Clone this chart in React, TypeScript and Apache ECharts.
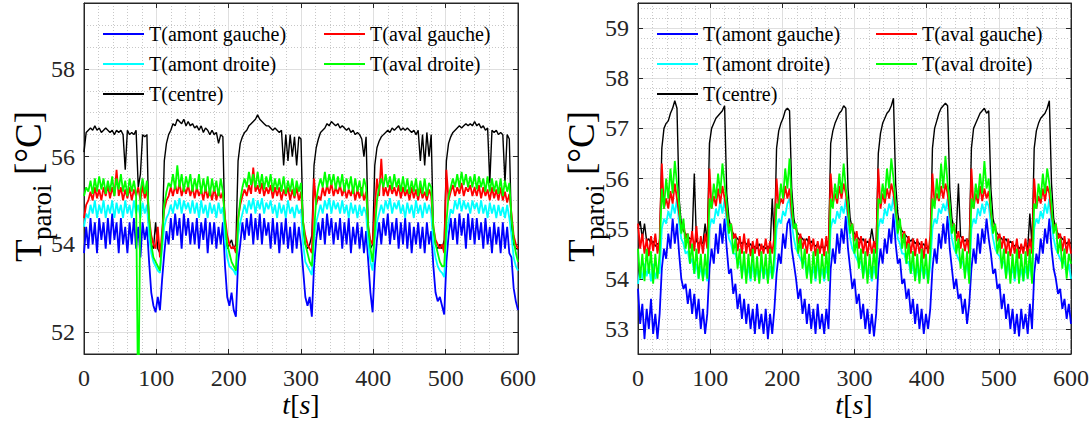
import React, { useEffect, useRef } from "react";
import * as echarts from "echarts";

// ---------- data (sampled every T_STEP seconds, t = 0 .. 600 s) ----------
const T_STEP = 3;

const NAMES = ["T(amont gauche)", "T(aval gauche)", "T(amont droite)", "T(aval droite)", "T(centre)"];
const COLORS: Record<string, string> = {
  "T(amont gauche)": "#0000ff",
  "T(aval gauche)": "#ff0000",
  "T(amont droite)": "#00ffff",
  "T(aval droite)": "#00ff00",
  "T(centre)": "#000000",
};

const X_TICK_LABELS = [0, 100, 200, 300, 400, 500, 600];
const L_Y_TICK_LABELS = [52, 54, 56, 58];
const R_Y_TICK_LABELS = [53, 54, 55, 56, 57, 58, 59];

// ----- left panel -----
const L_AMONT_G = [
  53.8, 54.4, 53.9, 54.6, 54.0, 54.5, 53.8, 54.6, 54.1, 54.5,
  53.9, 54.6, 54.0, 54.7, 54.1, 54.5, 53.8, 54.6, 54.0, 54.4,
  53.8, 54.5, 54.0, 54.6, 53.9, 54.4, 53.7, 54.5, 54.1, 54.4,
  53.6, 52.9, 52.6, 52.45, 52.8, 52.5, 53.2, 53.8, 54.3, 54.0,
  54.6, 54.1, 54.7, 54.2, 54.6, 53.9, 54.7, 54.2, 54.6, 54.0,
  54.5, 54.0, 54.6, 53.9, 54.5, 54.1, 54.6, 53.8, 54.5, 54.0,
  54.5, 53.9, 54.4, 54.0, 54.5, 53.5, 52.8, 52.6, 52.9, 52.5,
  52.35, 53.6, 54.0, 54.5, 54.1, 54.6, 54.2, 54.7, 54.0, 54.6,
  54.1, 54.7, 54.0, 54.6, 54.2, 54.5, 53.9, 54.6, 54.0, 54.5,
  53.8, 54.5, 54.0, 54.6, 53.9, 54.4, 53.8, 54.5, 53.9, 54.4,
  54.0, 53.4, 52.8, 52.6, 52.8, 52.35, 53.5, 54.1, 54.5, 54.1,
  54.6, 54.0, 54.7, 54.2, 54.6, 54.0, 54.5, 54.1, 54.6, 53.9,
  54.5, 54.0, 54.6, 53.8, 54.4, 54.0, 54.5, 53.9, 54.4, 53.8,
  54.3, 53.6, 52.9, 52.45, 53.5, 54.1, 54.5, 54.0, 54.6, 54.2,
  54.7, 54.0, 54.5, 54.1, 54.6, 53.9, 54.5, 54.0, 54.6, 53.9,
  54.5, 53.8, 54.4, 54.0, 54.5, 53.9, 54.4, 53.8, 54.5, 54.0,
  54.3, 53.5, 52.9, 52.7, 52.8, 52.6, 52.4, 53.6, 54.2, 54.6,
  54.1, 54.6, 54.0, 54.7, 54.2, 54.6, 53.9, 54.7, 54.1, 54.6,
  54.0, 54.6, 54.1, 54.5, 53.9, 54.6, 54.0, 54.4, 53.8, 54.5,
  54.0, 54.4, 53.8, 54.5, 53.9, 54.4, 53.8, 53.7, 53.0, 52.7,
  52.5,
];
const L_AVAL_G = [
  54.6, 54.9, 55.0, 55.2, 55.0, 55.3, 55.05, 55.25, 55.0, 55.3,
  55.1, 55.35, 55.05, 55.3, 55.1, 55.7, 55.1, 55.3, 55.0, 55.25,
  55.05, 55.3, 55.0, 55.25, 55.1, 55.3, 55.0, 55.35, 55.05, 55.25,
  54.6, 54.2, 54.0, 53.9, 54.4, 53.7, 54.3, 54.8, 55.0, 55.1,
  55.3, 55.1, 55.35, 55.15, 55.4, 55.1, 55.3, 55.15, 55.35, 55.1,
  55.3, 55.05, 55.3, 55.1, 55.25, 55.0, 55.3, 55.05, 55.25, 55.0,
  55.3, 55.0, 55.25, 55.05, 55.2, 54.6, 54.2, 54.0, 53.9, 53.95,
  53.8, 54.6, 54.9, 55.1, 55.25, 55.1, 55.35, 55.15, 55.75, 55.2,
  55.35, 55.15, 55.4, 55.1, 55.3, 55.15, 55.35, 55.05, 55.3, 55.1,
  55.3, 55.0, 55.25, 55.1, 55.3, 55.0, 55.25, 55.05, 55.3, 55.0,
  55.2, 54.5, 54.2, 54.0, 53.9, 53.8, 55.5, 54.9, 55.1, 55.0,
  55.3, 55.1, 55.35, 55.15, 55.4, 55.1, 55.3, 55.15, 55.35, 55.1,
  55.3, 55.05, 55.25, 55.1, 55.3, 55.0, 55.25, 55.05, 55.3, 55.0,
  55.2, 54.4, 54.1, 54.0, 54.8, 55.5, 55.1, 55.95, 55.1, 55.3,
  55.1, 55.35, 55.15, 55.3, 55.1, 55.35, 55.05, 55.3, 55.1, 55.25,
  55.0, 55.3, 55.05, 55.25, 55.0, 55.3, 55.05, 55.2, 55.0, 55.25,
  55.1, 54.4, 54.1, 54.0, 53.9, 54.0, 53.8, 55.7, 55.0, 55.2,
  55.35, 55.1, 55.3, 55.15, 55.4, 55.1, 55.3, 55.2, 55.35, 55.1,
  55.3, 55.1, 55.35, 55.05, 55.3, 55.1, 55.25, 55.0, 55.3, 55.05,
  55.25, 55.0, 55.3, 55.0, 55.2, 54.95, 55.15, 54.7, 54.2, 54.0,
  53.9,
];
const L_AMONT_D = [
  54.4, 54.7, 54.6, 54.9, 54.7, 55.0, 54.6, 54.9, 54.7, 55.0,
  54.6, 54.9, 54.7, 55.0, 54.6, 54.95, 54.7, 54.9, 54.6, 55.0,
  54.7, 54.9, 54.6, 55.0, 54.7, 54.9, 54.6, 54.95, 54.7, 54.9,
  54.2, 53.8, 53.6, 53.5, 53.4, 53.35, 53.9, 54.4, 54.6, 54.7,
  54.9, 54.7, 55.0, 54.8, 55.05, 54.7, 55.0, 54.8, 54.95, 54.7,
  55.0, 54.7, 54.95, 54.6, 55.0, 54.7, 54.9, 54.6, 54.95, 54.7,
  54.9, 54.6, 54.95, 54.7, 54.85, 54.1, 53.7, 53.5, 53.45, 53.4,
  53.3, 54.2, 54.5, 54.7, 54.9, 54.7, 55.0, 54.8, 55.05, 54.7,
  55.0, 54.8, 55.05, 54.7, 54.95, 54.8, 55.0, 54.7, 54.9, 54.6,
  54.95, 54.7, 54.9, 54.6, 55.0, 54.7, 54.85, 54.6, 54.9, 54.7,
  54.8, 54.0, 53.6, 53.5, 53.4, 53.3, 54.1, 54.5, 54.7, 54.9,
  54.7, 55.0, 54.8, 55.05, 54.7, 55.0, 54.8, 54.95, 54.7, 55.0,
  54.7, 54.9, 54.6, 54.95, 54.7, 54.9, 54.6, 54.9, 54.65, 54.85,
  54.7, 54.0, 53.6, 53.4, 54.1, 54.5, 54.7, 54.9, 54.7, 55.0,
  54.8, 55.05, 54.7, 54.95, 54.8, 55.0, 54.7, 54.9, 54.6, 54.95,
  54.7, 54.9, 54.6, 55.0, 54.7, 54.9, 54.6, 54.95, 54.7, 54.9,
  54.7, 54.0, 53.7, 53.5, 53.4, 53.35, 53.25, 54.2, 54.5, 54.8,
  54.7, 55.0, 54.8, 55.05, 54.75, 55.0, 54.8, 54.95, 54.7, 55.0,
  54.8, 54.95, 54.7, 55.0, 54.7, 54.9, 54.6, 54.95, 54.7, 54.9,
  54.6, 54.9, 54.65, 54.85, 54.6, 54.9, 54.6, 54.2, 53.7, 53.5,
  53.4,
];
const L_AVAL_D = [
  55.1, 55.3, 55.2, 55.45, 55.15, 55.5, 55.2, 55.55, 55.25, 55.5,
  55.15, 55.45, 55.2, 55.55, 55.1, 55.5, 55.25, 55.6, 55.2, 55.45,
  55.1, 55.5, 55.2, 55.45, 55.15, 50.0, 55.2, 55.5, 55.15, 55.45,
  54.6, 54.0, 53.7, 53.6, 53.5, 53.4, 54.1, 54.9, 55.2, 55.4,
  55.3, 55.6, 55.25, 55.8, 55.3, 55.6, 55.2, 55.55, 55.3, 55.6,
  55.2, 55.5, 55.25, 55.6, 55.15, 55.5, 55.2, 55.55, 55.1, 55.5,
  55.2, 55.45, 55.1, 55.5, 55.2, 54.5, 54.0, 53.8, 53.6, 53.5,
  53.4, 54.5, 55.0, 55.3, 55.5, 55.3, 55.65, 55.35, 55.6, 55.3,
  55.65, 55.3, 55.6, 55.25, 55.55, 55.3, 55.6, 55.2, 55.5, 55.25,
  55.5, 55.2, 55.55, 55.15, 55.45, 55.2, 55.5, 55.1, 55.45, 55.2,
  55.4, 54.5, 54.0, 53.8, 53.6, 53.5, 54.3, 55.0, 55.3, 55.5,
  55.3, 55.65, 55.3, 55.6, 55.35, 55.6, 55.25, 55.55, 55.3, 55.6,
  55.2, 55.5, 55.25, 55.55, 55.15, 55.5, 55.2, 55.45, 55.1, 55.5,
  55.3, 54.4, 53.9, 53.6, 54.3, 55.0, 55.3, 55.5, 55.3, 55.6,
  55.3, 55.55, 55.25, 55.6, 55.3, 55.5, 55.2, 55.55, 55.2, 55.5,
  55.15, 55.45, 55.2, 55.5, 55.1, 55.45, 55.15, 55.5, 55.1, 55.4,
  55.3, 54.4, 54.0, 53.8, 53.6, 53.5, 53.5, 54.5, 55.1, 55.3,
  55.5, 55.3, 55.6, 55.3, 55.65, 55.35, 55.6, 55.3, 55.55, 55.3,
  55.6, 55.25, 55.55, 55.3, 55.5, 55.2, 55.55, 55.2, 55.5, 55.2,
  55.45, 55.15, 55.5, 55.1, 55.45, 55.2, 55.4, 54.6, 54.1, 53.8,
  53.6,
];
const L_CENTRE = [
  56.1, 56.55, 56.6, 56.65, 56.6, 56.7, 56.6, 56.65, 56.55, 56.6,
  56.65, 56.6, 56.55, 56.6, 56.5, 56.6, 56.55, 56.6, 56.5, 55.7,
  56.6, 56.5, 56.55, 56.5, 56.6, 55.3, 55.6, 56.5, 56.45, 56.5,
  54.2, 54.0, 53.9, 54.5, 53.9, 53.8, 54.1, 55.9, 56.3, 56.5,
  56.6, 56.75, 56.7, 56.85, 56.8, 56.75, 56.85, 56.7, 56.8, 56.7,
  56.75, 56.65, 56.7, 56.6, 56.7, 56.55, 56.65, 56.6, 56.5, 56.6,
  56.5, 56.55, 56.3, 56.5, 56.45, 54.2, 53.9, 54.0, 54.1, 53.9,
  54.0, 55.9, 56.3, 56.45, 56.55, 56.6, 56.7, 56.75, 56.8, 56.85,
  56.95, 56.85, 56.8, 56.75, 56.7, 56.7, 56.65, 56.6, 56.65, 56.6,
  56.55, 56.6, 55.8, 56.5, 55.9, 56.5, 56.0, 56.45, 55.8, 56.45,
  56.4, 54.3, 54.0, 53.9, 54.0, 54.2, 55.8, 56.2, 56.4, 56.55,
  56.6, 56.65, 56.75, 56.7, 56.8, 56.75, 56.7, 56.75, 56.65, 56.7,
  56.65, 56.6, 56.65, 56.55, 56.6, 56.5, 56.55, 56.5, 56.4, 56.0,
  56.45, 54.3, 53.9, 54.0, 55.8, 56.2, 56.35, 56.45, 56.5, 56.55,
  56.6, 56.55, 56.65, 56.6, 56.65, 56.7, 56.6, 56.65, 56.6, 56.65,
  56.6, 56.55, 56.6, 56.5, 56.6, 55.9, 56.5, 55.8, 56.55, 56.0,
  56.5, 54.3, 54.0, 53.9, 54.0, 53.9, 54.1, 55.9, 56.3, 56.45,
  56.55, 56.6, 56.65, 56.7, 56.65, 56.7, 56.75, 56.7, 56.75, 56.7,
  56.8, 56.7, 56.75, 56.65, 56.7, 56.6, 56.65, 55.4, 56.6, 56.55,
  56.6, 56.5, 56.55, 56.5, 55.4, 56.5, 56.4, 54.3, 54.0, 53.9,
  53.9,
];

// ----- right panel -----
const R_AMONT_G = [
  53.8, 53.1, 53.5, 52.8, 53.4, 53.0, 53.6, 52.9, 53.3, 52.8,
  53.3, 54.2, 54.6, 54.4, 54.9, 54.6, 55.2, 54.7, 55.1, 54.5,
  54.0, 53.8, 53.9, 53.5, 53.8, 53.3, 53.7, 53.2, 53.6, 53.0,
  53.4, 52.9, 53.3, 54.2, 54.6, 54.3, 54.9, 54.5, 55.1, 54.7,
  55.2, 54.6, 54.1, 54.2, 53.7, 53.9, 53.4, 53.7, 53.2, 53.6,
  53.1, 53.5, 53.0, 53.4, 52.9, 53.5, 53.0, 53.3, 52.9, 53.4,
  52.8, 53.3, 52.9, 53.4, 54.1, 54.5, 54.3, 54.9, 54.6, 55.1,
  55.2, 54.6, 54.3, 54.0, 53.6, 53.8, 53.3, 53.6, 53.1, 53.5,
  53.0, 53.4, 52.9, 53.5, 53.0, 53.3, 52.9, 53.4, 53.0, 54.2,
  54.6, 54.3, 54.9, 54.5, 55.0, 54.7, 55.25, 54.6, 54.2, 53.8,
  54.0, 53.5, 53.7, 53.2, 53.5, 53.0, 53.4, 52.9, 53.3, 52.85,
  53.3, 54.2, 54.6, 54.3, 54.8, 54.5, 55.0, 54.7, 55.3, 54.7,
  54.3, 54.4, 53.9, 54.0, 53.6, 53.8, 53.3, 53.6, 53.1, 53.5,
  53.0, 53.4, 52.9, 53.3, 53.0, 53.4, 54.2, 54.6, 54.3, 54.9,
  54.6, 55.1, 54.7, 55.25, 54.6, 54.2, 53.8, 54.0, 53.6, 53.7,
  53.3, 53.6, 53.1, 53.5, 54.2, 54.6, 54.3, 54.9, 54.5, 55.0,
  54.7, 55.2, 54.8, 54.5, 54.1, 54.2, 53.8, 53.9, 53.4, 53.7,
  53.2, 53.5, 53.0, 53.4, 52.9, 53.3, 52.85, 53.4, 53.0, 53.3,
  52.9, 53.5, 53.0, 54.1, 54.5, 54.3, 54.8, 54.5, 55.0, 54.7,
  55.2, 54.6, 54.2, 54.0, 53.7, 53.8, 53.4, 53.6, 53.2, 53.5,
  53.1,
];
const R_AVAL_G = [
  55.1, 54.6, 54.9, 54.5, 54.8, 54.45, 54.85, 54.55, 54.9, 54.5,
  54.8, 56.3, 55.4, 55.6, 55.4, 55.75, 55.5, 55.9, 55.6, 55.3,
  55.0, 55.1, 54.8, 54.9, 54.6, 54.95, 54.55, 55.05, 54.5, 54.85,
  54.5, 54.9, 54.6, 56.2, 55.4, 55.65, 55.45, 55.8, 55.5, 55.85,
  55.6, 55.3, 55.0, 55.1, 54.8, 54.9, 54.55, 54.85, 54.5, 54.9,
  54.5, 54.8, 54.45, 54.75, 54.5, 54.8, 54.45, 54.7, 54.5, 54.8,
  54.5, 54.75, 54.5, 54.85, 56.0, 55.4, 55.6, 55.5, 55.85, 55.6,
  55.8, 55.3, 55.0, 55.05, 54.7, 54.9, 54.6, 54.8, 54.5, 54.85,
  54.55, 54.8, 54.45, 54.75, 54.5, 54.8, 54.45, 54.85, 54.5, 56.1,
  55.5, 55.7, 55.5, 55.85, 55.6, 55.9, 55.7, 55.3, 55.0, 55.1,
  54.75, 54.95, 54.6, 54.85, 54.5, 54.8, 54.45, 54.8, 54.5, 54.75,
  54.5, 56.2, 55.4, 55.7, 55.5, 55.8, 55.6, 55.9, 55.7, 55.35,
  55.05, 55.1, 54.8, 54.95, 54.6, 54.85, 54.5, 54.8, 54.45, 54.8,
  54.5, 54.75, 54.4, 54.8, 54.5, 54.85, 56.1, 55.5, 55.7, 55.55,
  55.85, 55.6, 55.9, 55.7, 55.3, 55.0, 55.1, 54.75, 54.95, 54.6,
  54.85, 54.55, 54.8, 54.5, 56.2, 55.4, 55.7, 55.5, 55.85, 55.55,
  55.8, 55.6, 55.75, 55.3, 55.0, 55.05, 54.75, 54.9, 54.6, 54.85,
  54.5, 54.8, 54.45, 54.75, 54.5, 54.8, 54.4, 54.7, 54.5, 54.8,
  54.45, 54.8, 54.5, 56.0, 55.4, 55.65, 55.5, 55.8, 55.55, 55.85,
  55.7, 55.3, 55.0, 55.1, 54.8, 54.9, 54.55, 54.85, 54.5, 54.8,
  54.5,
];
const R_AMONT_D = [
  53.9, 54.2, 54.0, 54.3, 54.05, 54.25, 53.95, 54.3, 54.0, 54.2,
  54.1, 55.0, 55.2, 55.1, 55.35, 55.2, 55.5, 55.3, 55.6, 55.1,
  54.8, 54.7, 54.5, 54.55, 54.3, 54.4, 54.1, 54.3, 54.0, 54.25,
  54.0, 54.2, 53.95, 55.0, 55.2, 55.1, 55.4, 55.25, 55.55, 55.3,
  55.6, 55.1, 54.8, 54.7, 54.5, 54.5, 54.3, 54.35, 54.1, 54.3,
  54.0, 54.25, 53.95, 54.3, 54.0, 54.2, 53.95, 54.3, 54.0, 54.2,
  53.95, 54.25, 54.0, 54.2, 55.0, 55.2, 55.1, 55.35, 55.25, 55.5,
  55.6, 55.1, 54.8, 54.6, 54.5, 54.4, 54.3, 54.35, 54.05, 54.3,
  54.0, 54.25, 53.95, 54.3, 54.0, 54.2, 53.95, 54.25, 54.0, 55.0,
  55.2, 55.1, 55.35, 55.2, 55.45, 55.3, 55.6, 55.1, 54.8, 54.6,
  54.5, 54.4, 54.3, 54.35, 54.05, 54.3, 54.0, 54.2, 53.95, 54.25,
  54.0, 55.0, 55.2, 55.1, 55.4, 55.25, 55.5, 55.35, 55.65, 55.2,
  54.8, 54.7, 54.5, 54.5, 54.3, 54.35, 54.1, 54.3, 54.0, 54.25,
  53.95, 54.3, 54.0, 54.2, 53.95, 54.25, 55.0, 55.2, 55.1, 55.4,
  55.3, 55.5, 55.35, 55.6, 55.1, 54.8, 54.6, 54.5, 54.4, 54.3,
  54.35, 54.1, 54.3, 54.0, 55.0, 55.2, 55.1, 55.4, 55.25, 55.5,
  55.3, 55.55, 55.45, 55.1, 54.8, 54.6, 54.5, 54.45, 54.3, 54.35,
  54.05, 54.3, 54.0, 54.25, 53.95, 54.3, 54.0, 54.2, 53.95, 54.25,
  54.0, 54.3, 54.0, 55.0, 55.2, 55.1, 55.35, 55.2, 55.5, 55.3,
  55.6, 55.1, 54.8, 54.6, 54.5, 54.4, 54.3, 54.35, 54.1, 54.3,
  54.0,
];
const R_AVAL_D = [
  54.6, 54.0, 54.5, 53.95, 54.6, 54.1, 54.55, 53.9, 54.5, 54.0,
  54.5, 55.8, 55.4, 56.0, 55.6, 56.2, 55.7, 56.35, 55.9, 55.5,
  54.9, 55.2, 54.6, 54.9, 54.3, 54.7, 54.1, 54.6, 54.0, 54.5,
  53.95, 54.5, 54.0, 55.6, 55.4, 55.9, 55.6, 56.1, 55.7, 56.3,
  55.9, 55.5, 54.9, 55.1, 54.5, 54.8, 54.2, 54.6, 54.0, 54.55,
  53.9, 54.5, 54.0, 54.6, 53.95, 54.45, 53.9, 54.55, 54.0, 54.5,
  53.9, 54.6, 54.0, 54.5, 55.5, 55.4, 55.9, 55.6, 56.2, 55.8,
  56.4, 55.5, 55.0, 55.1, 54.5, 54.8, 54.2, 54.6, 54.0, 54.5,
  53.9, 54.55, 54.0, 54.6, 53.9, 54.5, 54.0, 54.55, 53.95, 55.6,
  55.4, 55.9, 55.6, 56.1, 55.7, 56.3, 55.8, 55.5, 54.9, 55.1,
  54.5, 54.8, 54.2, 54.6, 54.0, 54.55, 53.9, 54.5, 54.0, 54.6,
  54.0, 55.6, 55.5, 55.9, 55.6, 56.2, 55.8, 56.4, 56.0, 55.5,
  54.9, 55.2, 54.6, 54.9, 54.3, 54.7, 54.1, 54.55, 53.95, 54.5,
  53.9, 54.6, 54.0, 54.5, 53.9, 54.55, 55.6, 55.4, 56.0, 55.6,
  56.3, 55.8, 56.45, 55.9, 55.5, 54.9, 55.1, 54.5, 54.8, 54.2,
  54.6, 54.0, 54.55, 53.9, 55.6, 55.4, 55.9, 55.6, 56.1, 55.7,
  56.35, 55.8, 56.0, 55.4, 54.9, 55.1, 54.5, 54.8, 54.2, 54.6,
  54.0, 54.55, 53.9, 54.5, 54.0, 54.6, 53.9, 54.5, 53.95, 54.55,
  54.0, 54.6, 53.9, 55.5, 55.4, 55.9, 55.6, 56.1, 55.7, 56.2,
  55.9, 55.5, 54.9, 55.1, 54.5, 54.8, 54.2, 54.6, 54.0, 54.5,
  54.3,
];
const R_CENTRE = [
  55.0, 55.15, 54.8, 55.1, 54.75, 54.8, 54.7, 54.75, 54.65, 54.7,
  54.7, 56.6, 57.0, 57.1, 57.15, 57.3, 57.4, 57.55, 57.4, 55.6,
  55.1, 54.95, 54.9, 54.85, 54.8, 54.8, 56.1, 54.75, 54.7, 54.75,
  54.7, 55.1, 54.7, 56.7, 57.0, 57.1, 57.2, 57.25, 57.3, 57.35,
  57.45, 55.7, 55.2, 55.0, 54.9, 54.85, 54.8, 54.75, 54.7, 54.75,
  54.7, 54.65, 54.7, 54.6, 54.65, 54.6, 54.7, 54.6, 54.65, 54.6,
  54.65, 54.6, 55.6, 54.7, 56.6, 56.95, 57.1, 57.2, 57.35, 57.4,
  57.35, 55.8, 55.2, 55.0, 54.9, 54.85, 54.8, 54.75, 54.8, 54.7,
  54.75, 54.7, 54.65, 54.7, 54.6, 54.65, 54.6, 54.7, 54.6, 56.7,
  56.95, 57.1, 57.2, 57.3, 57.35, 57.45, 57.4, 55.8, 55.2, 55.0,
  54.9, 54.85, 54.8, 54.75, 54.8, 54.7, 54.75, 54.7, 55.0, 54.7,
  54.7, 56.5, 56.9, 57.1, 57.2, 57.3, 57.35, 57.45, 57.6, 55.9,
  55.3, 55.05, 54.95, 54.9, 54.85, 54.8, 54.75, 54.8, 54.7, 54.75,
  54.7, 54.65, 54.7, 54.6, 54.65, 54.6, 56.6, 57.0, 57.15, 57.3,
  57.4, 57.45, 57.5, 57.45, 55.8, 55.2, 55.0, 54.9, 55.9, 54.85,
  54.8, 54.75, 54.8, 54.7, 56.6, 57.0, 57.1, 57.2, 57.3, 57.35,
  57.4, 57.3, 57.35, 55.8, 55.2, 55.0, 54.9, 54.85, 54.8, 54.75,
  54.8, 54.7, 54.75, 54.7, 54.65, 54.7, 54.6, 54.65, 54.6, 54.7,
  54.6, 55.3, 54.65, 56.6, 56.95, 57.1, 57.2, 57.25, 57.3, 57.4,
  57.55, 55.9, 55.2, 55.0, 54.9, 54.85, 54.8, 54.75, 54.7, 54.75,
  54.7,
];

// ---------- styling ----------
const FONT_FAMILY = "Liberation Serif, Times New Roman, serif";
const FONT_CSS = "'Liberation Serif', 'Times New Roman', serif";
const AXIS_C = "#262626";
const MAJOR_C = "#dfdfdf";
const MINOR_C = "#c8c8c8";

const PANELS = [
  {
    grid: { left: 84, top: 3, width: 434, height: 351 },
    y: { min: 51.5, max: 59.5, step: 2, split: 4, minor: 0.5, minorSplit: 16, labels: L_Y_TICK_LABELS },
    series: {
      "T(centre)": L_CENTRE,
      "T(amont gauche)": L_AMONT_G,
      "T(amont droite)": L_AMONT_D,
      "T(aval gauche)": L_AVAL_G,
      "T(aval droite)": L_AVAL_D,
    } as Record<string, number[]>,
    legendCols: [103, 324],
    yTitle: { x: 46.5, y: 262 },
    xTitleX: 301,
  },
  {
    grid: { left: 638, top: 3, width: 433, height: 351 },
    y: { min: 52.5, max: 59.5, step: 1, split: 7, minor: 0.2, minorSplit: 35, labels: R_Y_TICK_LABELS },
    series: {
      "T(centre)": R_CENTRE,
      "T(amont gauche)": R_AMONT_G,
      "T(amont droite)": R_AMONT_D,
      "T(aval gauche)": R_AVAL_G,
      "T(aval droite)": R_AVAL_D,
    } as Record<string, number[]>,
    legendCols: [657, 876],
    yTitle: { x: 600, y: 262 },
    xTitleX: 854,
  },
];

const DRAW_ORDER = ["T(centre)", "T(amont gauche)", "T(amont droite)", "T(aval gauche)", "T(aval droite)"];
const LEGEND_ROWS = [34, 64, 94];

const richFont = (size: number, color: string) => ({
  f: { fontFamily: FONT_FAMILY, fontSize: size, color },
});

function buildOption() {
  const grids: any[] = [];
  const xAxes: any[] = [];
  const yAxes: any[] = [];
  const series: any[] = [];
  const legends: any[] = [];
  const graphics: any[] = [];

  PANELS.forEach((p, gi) => {
    grids.push({
      ...p.grid,
      show: true,
      borderColor: AXIS_C,
      borderWidth: 1,
      backgroundColor: "#ffffff",
      containLabel: false,
    });
    const xMainIdx = xAxes.length;
    const xCommon = {
      type: "value",
      gridIndex: gi,
      min: X_TICK_LABELS[0],
      max: X_TICK_LABELS[X_TICK_LABELS.length - 1],
      interval: X_TICK_LABELS[1] - X_TICK_LABELS[0],
      axisLine: { show: true, onZero: false, lineStyle: { color: AXIS_C, width: 1 } },
      axisTick: { show: true, inside: true, length: 5, lineStyle: { color: AXIS_C, width: 1 } },
    };
    xAxes.push({
      ...xCommon,
      position: "bottom",
      axisLabel: {
        show: true,
        margin: 12,
        fontFamily: FONT_FAMILY,
        fontSize: 24,
        color: AXIS_C,
        formatter: (v: any) => `{f|${Math.round(Number(v))}}`,
        rich: richFont(24, AXIS_C),
      },
      splitLine: { show: true, showMinLine: false, showMaxLine: false, lineStyle: { color: MAJOR_C, width: 1 } },
      minorTick: { show: false, splitNumber: 5 },
      minorSplitLine: { show: true, lineStyle: { color: MINOR_C, width: 1, type: [1, 2] } },
    });
    xAxes.push({
      ...xCommon,
      position: "top",
      axisLabel: { show: false },
      splitLine: { show: false },
    });

    // minor grid axis (drawn first, below the major grid)
    yAxes.push({
      type: "value",
      gridIndex: gi,
      position: "left",
      min: p.y.min,
      max: p.y.max,
      splitNumber: p.y.minorSplit,
      minInterval: p.y.minor,
      maxInterval: p.y.minor,
      axisLine: { show: false },
      axisTick: { show: false },
      axisLabel: { show: false },
      splitLine: { show: true, showMinLine: false, showMaxLine: false, lineStyle: { color: MINOR_C, width: 1, type: [1, 2] } },
    });
    const yMainIdx = yAxes.length;
    const labels = p.y.labels;
    const yCommon = {
      type: "value",
      gridIndex: gi,
      min: p.y.min,
      max: p.y.max,
      splitNumber: p.y.split,
      minInterval: p.y.step,
      maxInterval: p.y.step,
      axisLine: { show: true, onZero: false, lineStyle: { color: AXIS_C, width: 1 } },
      axisTick: { show: true, inside: true, length: 5, lineStyle: { color: AXIS_C, width: 1 } },
    };
    yAxes.push({
      ...yCommon,
      position: "left",
      axisLabel: {
        show: true,
        margin: 9,
        fontFamily: FONT_FAMILY,
        fontSize: 24,
        color: AXIS_C,
        formatter: (v: any) => {
          const n = Number(v);
          return labels.some((l) => Math.abs(l - n) < 1e-6) ? `{f|${Math.round(n)}}` : "";
        },
        rich: richFont(24, AXIS_C),
      },
      splitLine: { show: true, showMinLine: false, showMaxLine: false, lineStyle: { color: MAJOR_C, width: 1 } },
    });
    yAxes.push({
      ...yCommon,
      position: "right",
      axisLabel: { show: false },
      splitLine: { show: false },
    });

    DRAW_ORDER.forEach((name) => {
      const arr = p.series[name];
      const isCentre = name === "T(centre)";
      series.push({
        type: "line",
        name,
        xAxisIndex: xMainIdx,
        yAxisIndex: yMainIdx,
        data: arr.map((v, i) => [i * T_STEP, v]),
        showSymbol: false,
        symbol: "none",
        clip: true,
        silent: true,
        lineStyle: { color: COLORS[name], width: isCentre ? 1.4 : 1.8 },
        itemStyle: { color: COLORS[name] },
        emphasis: { disabled: true },
      });
    });

    // legend: MATLAB 2-column layout, row-major order
    NAMES.forEach((name, k) => {
      const col = k % 2;
      const row = Math.floor(k / 2);
      legends.push({
        data: [{ name, icon: "rect" }],
        left: p.legendCols[col],
        top: LEGEND_ROWS[row] - 10,
        padding: 0,
        itemWidth: 41,
        itemHeight: 2,
        selectedMode: false,
        formatter: (n: string) => `{f|${n}}`,
        textStyle: { fontFamily: FONT_FAMILY, fontSize: 20, color: "#000000", rich: richFont(20, "#000000") },
      });
    });

    // y-axis title: T_paroi [°C], rotated
    const tStyle = (text: string, size: number) => ({
      text,
      font: `${size}px ${FONT_CSS}`,
      fill: "#000",
      textAlign: "left",
      textVerticalAlign: "bottom",
      align: "left",
      verticalAlign: "bottom",
    });
    graphics.push({
      type: "group",
      x: p.yTitle.x,
      y: p.yTitle.y,
      rotation: Math.PI / 2,
      silent: true,
      children: [
        { type: "text", x: 0, y: 0, style: tStyle("T", 37) },
        { type: "text", x: 22, y: 8.7, style: tStyle("paroi", 27) },
        { type: "text", x: 87, y: 0, style: tStyle("[°C]", 37) },
      ],
    });
    // x-axis title: t[s]
    graphics.push({
      type: "text",
      x: p.xTitleX,
      y: 404,
      silent: true,
      style: {
        text: "{i|t}{n|[}{i|s}{n|]}",
        rich: {
          i: { fontFamily: FONT_FAMILY, fontSize: 28, fontStyle: "italic", fill: "#000", color: "#000" },
          n: { fontFamily: FONT_FAMILY, fontSize: 28, fill: "#000", color: "#000" },
        },
        textAlign: "center",
        textVerticalAlign: "middle",
        align: "center",
        verticalAlign: "middle",
        fill: "#000",
      },
    });
  });

  return {
    animation: false,
    backgroundColor: "#ffffff",
    textStyle: { fontFamily: FONT_FAMILY },
    grid: grids,
    xAxis: xAxes,
    yAxis: yAxes,
    legend: legends,
    series,
    graphic: graphics,
  };
}

export default function App() {
  const ref = useRef<HTMLDivElement>(null);
  useEffect(() => {
    if (!ref.current) return;
    const chart = echarts.init(ref.current, undefined, { renderer: "svg" });
    chart.setOption(buildOption() as any);
    return () => chart.dispose();
  }, []);
  return (
    <div
      ref={ref}
      style={{ position: "absolute", left: 0, top: 0, width: 1092, height: 425, background: "#fff" }}
    />
  );
}
